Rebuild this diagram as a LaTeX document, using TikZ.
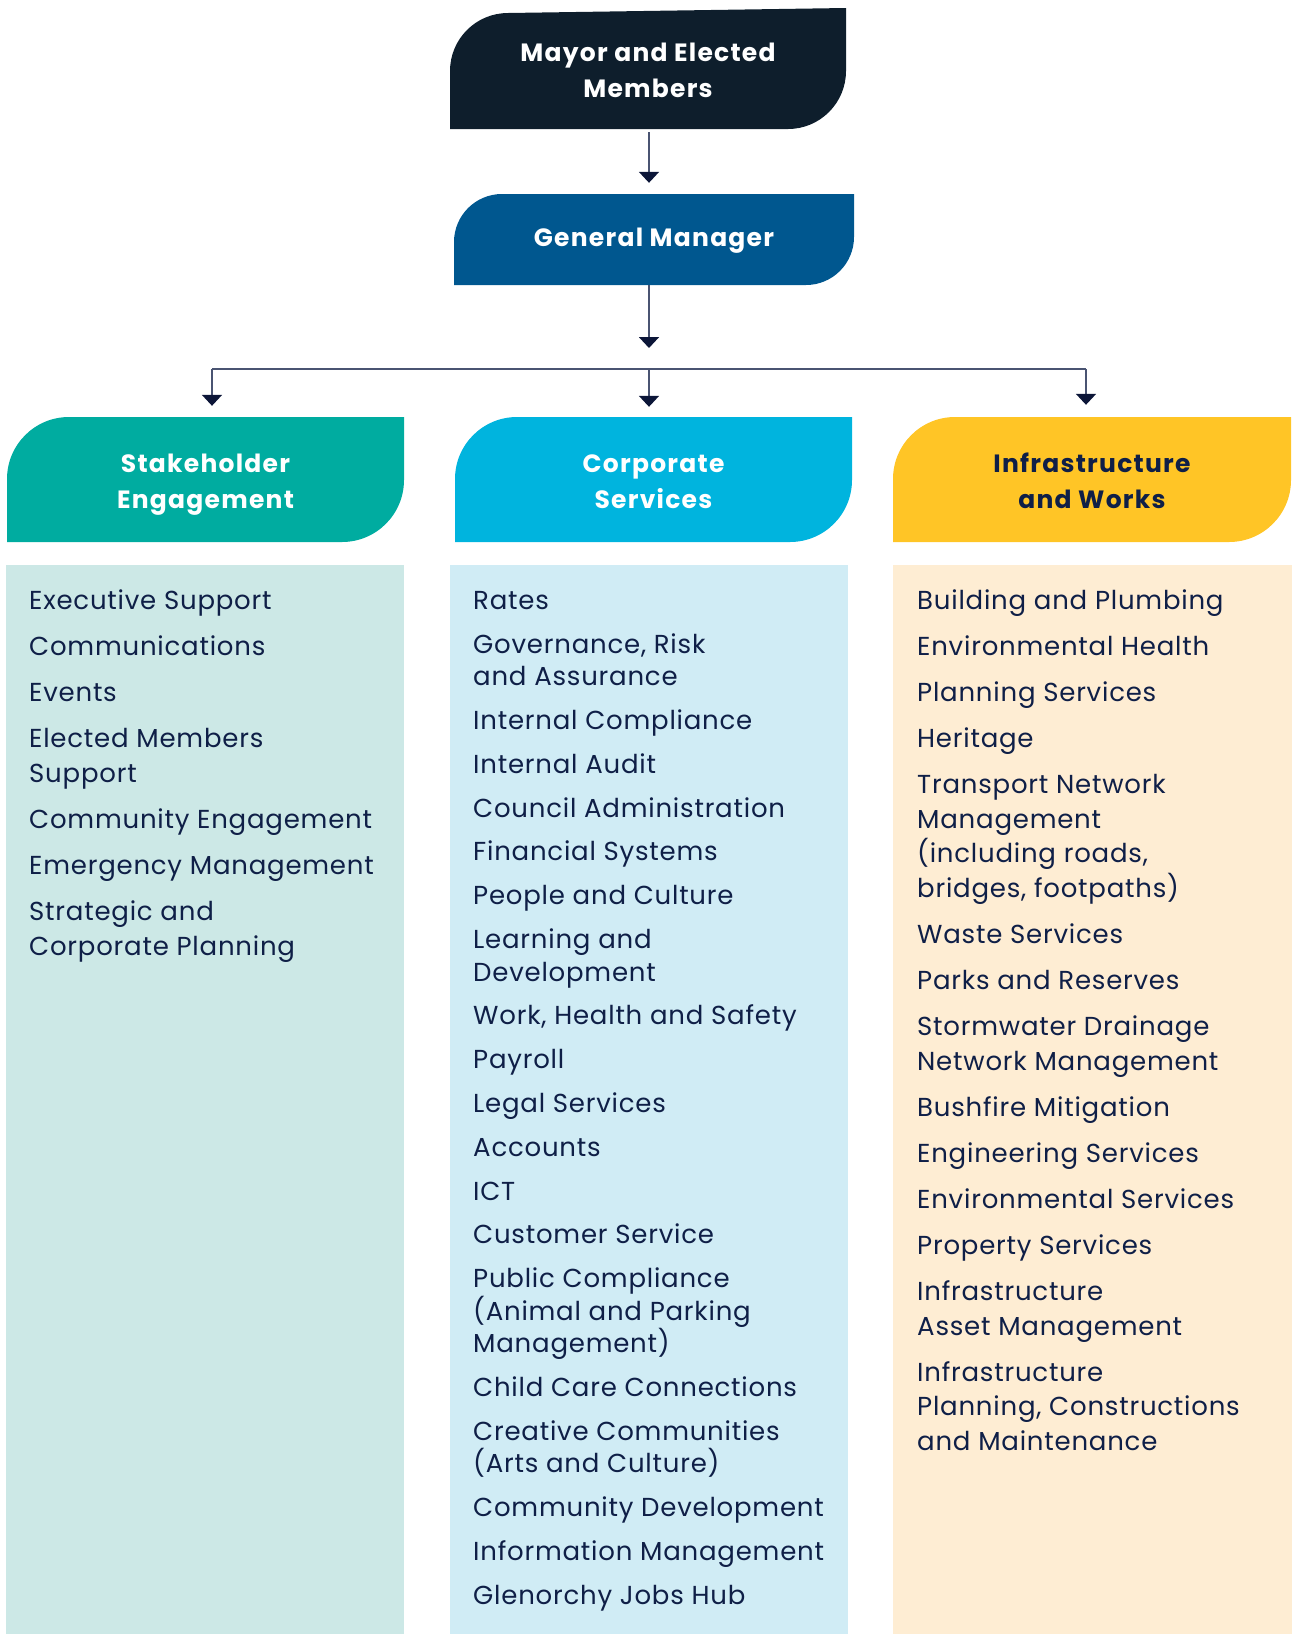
\documentclass[tikz,border=0pt]{standalone}
\usepackage{fontspec}
\setmainfont{Poppins}
\usetikzlibrary{arrows.meta}

\definecolor{mayorfill}{HTML}{0E1E2C}
\definecolor{gmfill}{HTML}{00578F}
\definecolor{stakefill}{HTML}{00ACA0}
\definecolor{corpfill}{HTML}{00B4DE}
\definecolor{infrafill}{HTML}{FFC526}
\definecolor{stakepanel}{HTML}{CCE8E6}
\definecolor{corppanel}{HTML}{D0ECF5}
\definecolor{infrapanel}{HTML}{FEEDD3}
\definecolor{textnavy}{HTML}{0F1F47}
\definecolor{linegray}{HTML}{4A5472}
\definecolor{tipnavy}{HTML}{0C1638}

\newcommand\hstrut{\rule[-7pt]{0pt}{35.5pt}}
\newcommand\lstrut{\rule{0pt}{25pt}}

\begin{document}
\begin{tikzpicture}[x=1pt,y=-1pt,
  head/.style={text=white,font=\fontsize{25}{35}\selectfont\bfseries\addfontfeatures{LetterSpace=5},align=center,inner sep=0pt},
  items/.style={anchor=north west,align=left,inner sep=0pt,text=textnavy},
  conn/.style={draw=linegray,line width=2pt,-{Triangle[width=20pt,length=11pt,color=tipnavy]}}]
\useasboundingbox (0,0) rectangle (1292,1634);

% header shapes
\fill[mayorfill] (450,129) -- (450,71) arc[start angle=180,end angle=270,radius=58] -- (846,8) -- (846,71) arc[start angle=0,end angle=90,radius=58] -- cycle;
\fill[gmfill] (454,285) -- (454,242) arc[start angle=180,end angle=270,radius=48] -- (854,194) -- (854,237) arc[start angle=0,end angle=90,radius=48] -- cycle;
\fill[stakefill] (7,542) -- (7,479) arc[start angle=180,end angle=270,radius=62] -- (404,417) -- (404,480) arc[start angle=0,end angle=90,radius=62] -- cycle;
\fill[corpfill] (455,542) -- (455,479) arc[start angle=180,end angle=270,radius=62] -- (852,417) -- (852,480) arc[start angle=0,end angle=90,radius=62] -- cycle;
\fill[infrafill] (893,542) -- (893,479) arc[start angle=180,end angle=270,radius=62] -- (1291,417) -- (1291,480) arc[start angle=0,end angle=90,radius=62] -- cycle;

% panels
\fill[stakepanel] (6,565) rectangle (404,1634);
\fill[corppanel] (450,565) rectangle (848,1634);
\fill[infrapanel] (893,565) rectangle (1292,1634);

\node[head,minimum width=396pt,minimum height=121pt] (mayor) at (648,68.5) {\hstrut Mayor and Elected\\\hstrut Members};
\node[head,minimum width=400pt,minimum height=91pt] (gm) at (654,239.5) {\rule[-7pt]{0pt}{28pt}General Manager};
\node[head,minimum width=397pt,minimum height=125pt] (stake) at (205.5,479.5) {\hstrut Stakeholder\\\hstrut Engagement};
\node[head,minimum width=397pt,minimum height=125pt] (corp) at (653.5,479.5) {\hstrut Corporate\\\hstrut Services};
\node[head,text=textnavy,minimum width=398pt,minimum height=125pt] (infra) at (1092,479.5) {\hstrut Infrastructure\\\hstrut and Works};

% connectors
\coordinate (bus-l) at (212,369);
\coordinate (bus-m) at (649,369);
\coordinate (bus-r) at (1086,369);
\draw[conn,shorten <=3pt,shorten >=11pt] (mayor.south -| bus-m) -- (gm.north -| bus-m);
\draw[conn,shorten >=21pt] (gm.south -| bus-m) -- (bus-m);
\draw[draw=linegray,line width=2pt] (bus-l) -- (bus-r);
\draw[conn,shorten >=11pt] (bus-l) -- (stake.north -| bus-l);
\draw[conn,shorten >=10pt] (bus-m) -- (corp.north -| bus-m);
\draw[conn,shorten >=12pt] (bus-r) -- (infra.north -| bus-r);

% lists
\node[items,font=\fontsize{26}{35}\selectfont\addfontfeatures{LetterSpace=3}] (stakelist) at (29,584.2) {\lstrut Executive Support\\[11pt]
Communications\\[11pt]
Events\\[11pt]
Elected Members\\Support\\[11pt]
Community Engagement\\[11pt]
Emergency Management\\[11pt]
Strategic and\\Corporate Planning};

\node[items,font=\fontsize{26}{32.5}\selectfont\addfontfeatures{LetterSpace=3}] (corplist) at (473,584.2) {\lstrut Rates\\[11.3pt]
Governance, Risk\\and Assurance\\[11.3pt]
Internal Compliance\\[11.3pt]
Internal Audit\\[11.3pt]
Council Administration\\[11.3pt]
Financial Systems\\[11.3pt]
People and Culture\\[11.3pt]
Learning and\\Development\\[11.3pt]
Work, Health and Safety\\[11.3pt]
Payroll\\[11.3pt]
Legal Services\\[11.3pt]
Accounts\\[11.3pt]
ICT\\[11.3pt]
Customer Service\\[11.3pt]
Public Compliance\\(Animal and Parking\\Management)\\[11.3pt]
Child Care Connections\\[11.3pt]
Creative Communities\\(Arts and Culture)\\[11.3pt]
Community Development\\[11.3pt]
Information Management\\[11.3pt]
Glenorchy Jobs Hub};

\node[items,font=\fontsize{26}{34.5}\selectfont\addfontfeatures{LetterSpace=3}] (infralist) at (917,584.2) {\lstrut Building and Plumbing\\[11.6pt]
Environmental Health\\[11.6pt]
Planning Services\\[11.6pt]
Heritage\\[11.6pt]
Transport Network\\Management\\(including roads,\\bridges, footpaths)\\[11.6pt]
Waste Services\\[11.6pt]
Parks and Reserves\\[11.6pt]
Stormwater Drainage\\Network Management\\[11.6pt]
Bushfire Mitigation\\[11.6pt]
Engineering Services\\[11.6pt]
Environmental Services\\[11.6pt]
Property Services\\[11.6pt]
Infrastructure\\Asset Management\\[11.6pt]
Infrastructure\\Planning, Constructions\\and Maintenance};
\end{tikzpicture}
\end{document}
